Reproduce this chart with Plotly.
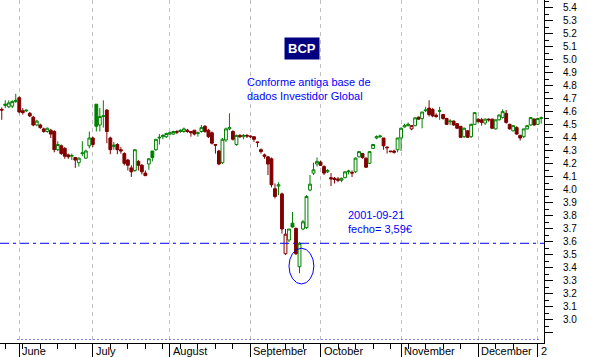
import pandas as pd
import plotly.graph_objects as go

# ---------------- data ----------------
HOLIDAYS = ["2001-12-24", "2001-12-25", "2001-12-26", "2001-12-31", "2002-01-01"]
DATES = [d for d in pd.bdate_range("2001-05-25", "2002-01-03")
         if d.strftime("%Y-%m-%d") not in HOLIDAYS]

OPEN = [4.62, 4.65, 4.64, 4.645, 4.68, 4.71, 4.61, 4.615, 4.59, 4.56,
        4.50, 4.50, 4.47, 4.45, 4.46, 4.45, 4.31, 4.34, 4.32, 4.27,
        4.26, 4.25, 4.21, 4.28, 4.245, 4.34, 4.40, 4.66, 4.50, 4.565,
        4.615, 4.40, 4.335, 4.35, 4.31, 4.28, 4.23, 4.17, 4.15, 4.22,
        4.19, 4.13, 4.20, 4.30, 4.31, 4.40, 4.41, 4.41, 4.43, 4.43,
        4.45, 4.45, 4.45, 4.46, 4.45, 4.46, 4.435, 4.45, 4.49, 4.46,
        4.44, 4.35, 4.30, 4.21, 4.385, 4.47, 4.45, 4.35, 4.42, 4.41,
        4.42, 4.415, 4.41, 4.37, 4.31, 4.27, 4.255, 4.24, 4.01, 4.03,
        3.97, 3.51, 3.615, 3.745, 3.705, 3.41, 3.70, 3.71, 4.00, 4.13,
        4.20, 4.215, 4.18, 4.14, 4.095, 4.09, 4.085, 4.075, 4.095, 4.14,
        4.135, 4.14, 4.255, 4.28, 4.245, 4.205, 4.32, 4.40, 4.41, 4.40,
        4.33, 4.30, 4.30, 4.31, 4.40, 4.485, 4.495, 4.47, 4.495, 4.56,
        4.55, 4.61, 4.63, 4.62, 4.575, 4.605, 4.58, 4.55, 4.525, 4.53,
        4.51, 4.49, 4.41, 4.455, 4.41, 4.505, 4.545, 4.54, 4.515, 4.545,
        4.545, 4.47, 4.54, 4.557, 4.59, 4.505, 4.455, 4.48, 4.42, 4.41,
        4.47, 4.50, 4.546, 4.505, 4.55]
HIGH = [4.635, 4.69, 4.69, 4.69, 4.74, 4.72, 4.63, 4.62, 4.60, 4.57,
        4.54, 4.51, 4.48, 4.48, 4.47, 4.46, 4.375, 4.35, 4.33, 4.28,
        4.28, 4.25, 4.25, 4.375, 4.31, 4.45, 4.41, 4.66, 4.63, 4.69,
        4.62, 4.41, 4.37, 4.36, 4.33, 4.29, 4.24, 4.19, 4.31, 4.23,
        4.20, 4.15, 4.245, 4.30, 4.39, 4.43, 4.43, 4.44, 4.45, 4.455,
        4.46, 4.465, 4.48, 4.47, 4.45, 4.46, 4.45, 4.50, 4.50, 4.47,
        4.45, 4.35, 4.31, 4.40, 4.48, 4.59, 4.46, 4.425, 4.43, 4.43,
        4.43, 4.42, 4.41, 4.37, 4.32, 4.28, 4.26, 4.25, 4.05, 4.06,
        3.98, 3.70, 3.70, 3.83, 3.71, 3.60, 3.77, 3.96, 4.115, 4.21,
        4.25, 4.225, 4.19, 4.16, 4.13, 4.10, 4.10, 4.095, 4.14, 4.155,
        4.15, 4.25, 4.30, 4.285, 4.25, 4.30, 4.355, 4.42, 4.425, 4.40,
        4.335, 4.30, 4.31, 4.40, 4.48, 4.51, 4.52, 4.50, 4.56, 4.565,
        4.60, 4.64, 4.69, 4.63, 4.59, 4.64, 4.585, 4.555, 4.545, 4.535,
        4.515, 4.49, 4.48, 4.46, 4.51, 4.60, 4.55, 4.555, 4.55, 4.55,
        4.55, 4.54, 4.58, 4.62, 4.615, 4.51, 4.50, 4.49, 4.425, 4.47,
        4.50, 4.56, 4.55, 4.555, 4.565]
LOW = [4.54, 4.63, 4.63, 4.63, 4.67, 4.59, 4.58, 4.60, 4.56, 4.49,
       4.49, 4.47, 4.44, 4.44, 4.40, 4.29, 4.30, 4.27, 4.24, 4.24,
       4.23, 4.17, 4.18, 4.26, 4.24, 4.32, 4.33, 4.45, 4.45, 4.48,
       4.36, 4.275, 4.31, 4.275, 4.28, 4.19, 4.15, 4.10, 4.14, 4.15,
       4.12, 4.11, 4.155, 4.22, 4.30, 4.35, 4.39, 4.40, 4.42, 4.425,
       4.43, 4.44, 4.44, 4.44, 4.41, 4.42, 4.41, 4.44, 4.44, 4.40,
       4.35, 4.28, 4.19, 4.20, 4.37, 4.46, 4.38, 4.34, 4.40, 4.39,
       4.40, 4.40, 4.37, 4.33, 4.28, 4.24, 4.115, 4.02, 3.935, 3.96,
       3.665, 3.50, 3.60, 3.71, 3.50, 3.36, 3.69, 3.70, 3.99, 4.115,
       4.18, 4.185, 4.115, 4.13, 4.03, 4.05, 4.06, 4.06, 4.09, 4.12,
       4.10, 4.13, 4.25, 4.24, 4.17, 4.20, 4.315, 4.39, 4.40, 4.31,
       4.28, 4.29, 4.28, 4.29, 4.30, 4.48, 4.49, 4.46, 4.49, 4.54,
       4.475, 4.60, 4.565, 4.56, 4.555, 4.54, 4.54, 4.50, 4.50, 4.495,
       4.47, 4.40, 4.40, 4.40, 4.40, 4.50, 4.52, 4.495, 4.50, 4.525,
       4.47, 4.465, 4.535, 4.55, 4.51, 4.465, 4.45, 4.425, 4.38, 4.40,
       4.465, 4.495, 4.495, 4.50, 4.51]
CLOSE = [4.615, 4.66, 4.67, 4.68, 4.69, 4.60, 4.595, 4.61, 4.57, 4.50,
         4.53, 4.48, 4.45, 4.475, 4.43, 4.31, 4.35, 4.28, 4.26, 4.255,
         4.265, 4.23, 4.245, 4.285, 4.30, 4.40, 4.35, 4.49, 4.565, 4.57,
         4.45, 4.31, 4.345, 4.31, 4.30, 4.205, 4.19, 4.14, 4.31, 4.19,
         4.14, 4.11, 4.24, 4.25, 4.39, 4.405, 4.42, 4.435, 4.44, 4.45,
         4.445, 4.46, 4.47, 4.45, 4.44, 4.43, 4.44, 4.48, 4.45, 4.41,
         4.36, 4.345, 4.20, 4.39, 4.47, 4.48, 4.39, 4.42, 4.41, 4.42,
         4.415, 4.41, 4.39, 4.365, 4.295, 4.26, 4.20, 4.04, 3.95, 4.04,
         3.70, 3.66, 3.70, 3.715, 3.51, 3.59, 3.755, 3.95, 4.045, 4.155,
         4.22, 4.19, 4.13, 4.15, 4.085, 4.08, 4.075, 4.09, 4.14, 4.145,
         4.13, 4.245, 4.295, 4.25, 4.175, 4.295, 4.35, 4.41, 4.415, 4.34,
         4.325, 4.295, 4.29, 4.40, 4.475, 4.495, 4.505, 4.495, 4.555, 4.545,
         4.60, 4.615, 4.58, 4.57, 4.565, 4.61, 4.55, 4.505, 4.53, 4.50,
         4.475, 4.405, 4.475, 4.405, 4.505, 4.595, 4.525, 4.52, 4.545, 4.54,
         4.475, 4.54, 4.577, 4.603, 4.52, 4.47, 4.495, 4.43, 4.40, 4.47,
         4.495, 4.557, 4.50, 4.55, 4.555]

MONTH_LABELS = ["June", "July", "August", "September", "October",
                "November", "December", "2"]
Y_TICKS = [2.9, 3.0, 3.1, 3.2, 3.3, 3.4, 3.5, 3.6, 3.7, 3.8, 3.9, 4.0, 4.1,
           4.2, 4.3, 4.4, 4.5, 4.6, 4.7, 4.8, 4.9, 5.0, 5.1, 5.2, 5.3, 5.4]
MARKED_DAY = "2001-09-21"

# ---------------- styling ----------------
GREEN = "#008000"
RED = "#800000"
BLUE = "#0000ff"
FONT = "Liberation Sans, Arial, sans-serif"

n = len(DATES)
X = list(range(n))

# colour by close vs previous close, fill by close vs open
is_up = []
for i in range(n):
    prev = CLOSE[i - 1] if i > 0 else OPEN[i]
    is_up.append(CLOSE[i] >= prev)


def subset(flag):
    idx = [i for i in range(n) if is_up[i] == flag]
    return ([X[i] for i in idx], [OPEN[i] for i in idx], [HIGH[i] for i in idx],
            [LOW[i] for i in idx], [CLOSE[i] for i in idx])


fig = go.Figure()
for flag, col in ((False, RED), (True, GREEN)):
    xs, o, h, l, c = subset(flag)
    fig.add_trace(go.Candlestick(
        x=xs, open=o, high=h, low=l, close=c,
        increasing=dict(line=dict(color=col, width=1), fillcolor="white"),
        decreasing=dict(line=dict(color=col, width=1), fillcolor=col),
        whiskerwidth=0, hoverinfo="skip", showlegend=False,
    ))

# month starts and Monday ticks
month_starts = [i for i in range(n) if i > 0 and DATES[i].month != DATES[i - 1].month]
mondays = [i for i in range(n) if DATES[i].weekday() == 0 and i not in month_starts]

mark_i = [d.strftime("%Y-%m-%d") for d in DATES].index(MARKED_DAY)
mark_close = CLOSE[mark_i]

Y_MIN, Y_MAX = 2.823, 5.4615
X_MIN, X_MAX = -0.5, n - 0.2

fig.update_layout(
    width=590, height=357,
    margin=dict(l=0, r=46, t=0, b=14, autoexpand=False),
    paper_bgcolor="white", plot_bgcolor="white",
    showlegend=False,
    boxgap=0.12, boxgroupgap=0.08,
    font=dict(family=FONT, size=11, color="black"),
    xaxis=dict(
        range=[X_MIN, X_MAX],
        rangeslider=dict(visible=False),
        tickmode="array", tickvals=month_starts,
        showticklabels=False,
        ticks="outside", ticklen=14, tickcolor="black", tickwidth=1,
        showgrid=True, gridcolor="#c0c0c0", gridwidth=1, griddash="4px,4px",
        showline=True, linecolor="black", linewidth=1,
        zeroline=False, automargin=False,
        minor=dict(tickmode="array", tickvals=mondays, ticks="outside",
                   ticklen=5, tickcolor="black", showgrid=False),
    ),
    yaxis=dict(
        side="right",
        range=[Y_MIN, Y_MAX],
        tickmode="array", tickvals=Y_TICKS,
        ticktext=[("%.1f" % v) if v >= 3.0 else "" for v in Y_TICKS],
        ticks="outside", ticklen=8, tickcolor="black",
        ticklabelstandoff=8,
        tickfont=dict(size=10, family=FONT, color="black"),
        showgrid=False, zeroline=False, automargin=False,
        showline=True, linecolor="black", linewidth=1,
        minor=dict(tickmode="array", tickvals=[round(v + 0.05, 2) for v in Y_TICKS],
                   ticks="outside", ticklen=4, tickcolor="black", showgrid=False),
    ),
)

# reference line at the marked close, ellipse round the marked candle, volume baseline
fig.add_shape(type="line", xref="paper", x0=0, x1=1, yref="y", y0=mark_close, y1=mark_close,
              line=dict(color=BLUE, width=1, dash="9px,4px,3px,4px"))
fig.add_shape(type="circle", xref="x", yref="y",
              x0=mark_i - 3.0, x1=mark_i + 4.1, y0=3.277, y1=3.552,
              line=dict(color=BLUE, width=1))
fig.add_shape(type="line", xref="x", x0=month_starts[0] - 0.5, x1=n - 1, yref="y",
              y0=2.85, y1=2.85, line=dict(color=BLUE, width=1, dash="1px,3px"))

# title box
fig.add_annotation(xref="paper", yref="paper", x=302 / 544, y=1 - 48 / 343,
                   xanchor="center", yanchor="middle",
                   text="<b>BCP</b>", showarrow=False,
                   font=dict(family=FONT, size=13, color="white"),
                   bgcolor="#000080", borderpad=3)
# notes
fig.add_annotation(xref="paper", yref="paper", x=245 / 544, y=1 - 89.5 / 343,
                   xanchor="left", yanchor="middle", align="left",
                   text="Conforme antiga base de<br>dados Investidor Global",
                   showarrow=False, font=dict(family=FONT, size=11, color=BLUE))
fig.add_annotation(xref="paper", yref="paper", x=346 / 544, y=1 - 222 / 343,
                   xanchor="left", yanchor="middle", align="left",
                   text="2001-09-21<br>fecho= 3,59€",
                   showarrow=False, font=dict(family=FONT, size=11, color=BLUE))
# month labels
for idx, lab in zip(month_starts, MONTH_LABELS):
    fig.add_annotation(xref="x", yref="paper", x=idx, y=-8 / 343,
                       xanchor="left", yanchor="middle", xshift=1,
                       text=lab, showarrow=False,
                       font=dict(family=FONT, size=11, color="black"))

# the page itself must not add its default 8px body margin
fig.write_html("out.html",
               config={"displayModeBar": False},
               post_script="document.body.style.margin='0px';"
                           "document.body.style.padding='0px';"
                           "document.body.style.overflow='hidden';")
